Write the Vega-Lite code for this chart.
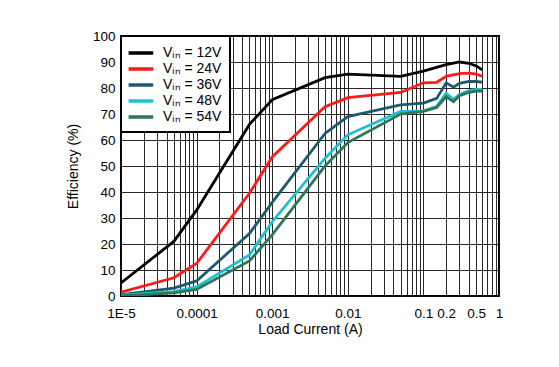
{
  "$schema": "https://vega.github.io/schema/vega-lite/v6.json",
  "width": 378,
  "height": 260,
  "autosize": {"type": "none"},
  "padding": {"left": 121, "top": 36, "right": 60, "bottom": 71},
  "background": "white",
  "config": {
    "font": "Liberation Sans",
    "view": {"stroke": "black", "strokeWidth": 2},
    "axis": {
      "labelFont": "Liberation Sans",
      "titleFont": "Liberation Sans",
      "labelFontSize": 13.5,
      "titleFontSize": 14,
      "labelColor": "black",
      "titleColor": "black",
      "titleFontWeight": "normal",
      "tickSize": 0,
      "domain": false,
      "gridColor": "#111111",
      "gridWidth": 1,
      "gridOpacity": 0.9
    },
    "legend": {
      "labelFont": "Liberation Sans",
      "labelFontSize": 14,
      "labelColor": "black"
    }
  },
  "data": {
    "values": [
      {"vin": "12V", "current": 0.00001, "eff": 5},
      {"vin": "12V", "current": 0.00005, "eff": 21},
      {"vin": "12V", "current": 0.0001, "eff": 33},
      {"vin": "12V", "current": 0.0005, "eff": 66},
      {"vin": "12V", "current": 0.001, "eff": 75.5},
      {"vin": "12V", "current": 0.005, "eff": 84},
      {"vin": "12V", "current": 0.01, "eff": 85.3},
      {"vin": "12V", "current": 0.05, "eff": 84.5},
      {"vin": "12V", "current": 0.1, "eff": 86.5},
      {"vin": "12V", "current": 0.2, "eff": 89},
      {"vin": "12V", "current": 0.3, "eff": 90},
      {"vin": "12V", "current": 0.4, "eff": 89.5},
      {"vin": "12V", "current": 0.5, "eff": 88.5},
      {"vin": "12V", "current": 0.6, "eff": 87},

      {"vin": "24V", "current": 0.00001, "eff": 1.5},
      {"vin": "24V", "current": 0.00005, "eff": 7},
      {"vin": "24V", "current": 0.0001, "eff": 12.5},
      {"vin": "24V", "current": 0.0005, "eff": 39.5},
      {"vin": "24V", "current": 0.001, "eff": 53.5},
      {"vin": "24V", "current": 0.005, "eff": 72.8},
      {"vin": "24V", "current": 0.01, "eff": 76.3},
      {"vin": "24V", "current": 0.05, "eff": 78.3},
      {"vin": "24V", "current": 0.1, "eff": 82},
      {"vin": "24V", "current": 0.15, "eff": 82.2},
      {"vin": "24V", "current": 0.2, "eff": 84.5},
      {"vin": "24V", "current": 0.3, "eff": 85.5},
      {"vin": "24V", "current": 0.4, "eff": 85.7},
      {"vin": "24V", "current": 0.5, "eff": 85.3},
      {"vin": "24V", "current": 0.6, "eff": 84.5},

      {"vin": "36V", "current": 0.00001, "eff": 0.5},
      {"vin": "36V", "current": 0.00005, "eff": 3},
      {"vin": "36V", "current": 0.0001, "eff": 5.8},
      {"vin": "36V", "current": 0.0005, "eff": 24},
      {"vin": "36V", "current": 0.001, "eff": 36},
      {"vin": "36V", "current": 0.005, "eff": 62.5},
      {"vin": "36V", "current": 0.01, "eff": 69},
      {"vin": "36V", "current": 0.05, "eff": 73.5},
      {"vin": "36V", "current": 0.1, "eff": 74.2},
      {"vin": "36V", "current": 0.15, "eff": 76},
      {"vin": "36V", "current": 0.2, "eff": 82},
      {"vin": "36V", "current": 0.25, "eff": 80.3},
      {"vin": "36V", "current": 0.3, "eff": 81.8},
      {"vin": "36V", "current": 0.4, "eff": 82.5},
      {"vin": "36V", "current": 0.5, "eff": 82.5},
      {"vin": "36V", "current": 0.6, "eff": 82.3},

      {"vin": "48V", "current": 0.00001, "eff": 0.3},
      {"vin": "48V", "current": 0.00005, "eff": 1.7},
      {"vin": "48V", "current": 0.0001, "eff": 3.5},
      {"vin": "48V", "current": 0.0005, "eff": 15.8},
      {"vin": "48V", "current": 0.001, "eff": 28.5},
      {"vin": "48V", "current": 0.005, "eff": 53},
      {"vin": "48V", "current": 0.01, "eff": 62},
      {"vin": "48V", "current": 0.05, "eff": 71},
      {"vin": "48V", "current": 0.1, "eff": 71.2},
      {"vin": "48V", "current": 0.15, "eff": 73},
      {"vin": "48V", "current": 0.2, "eff": 78},
      {"vin": "48V", "current": 0.25, "eff": 75.6},
      {"vin": "48V", "current": 0.3, "eff": 77.5},
      {"vin": "48V", "current": 0.4, "eff": 79},
      {"vin": "48V", "current": 0.5, "eff": 79.5},
      {"vin": "48V", "current": 0.6, "eff": 79.5},

      {"vin": "54V", "current": 0.00001, "eff": 0},
      {"vin": "54V", "current": 0.00005, "eff": 1.2},
      {"vin": "54V", "current": 0.0001, "eff": 2.5},
      {"vin": "54V", "current": 0.0005, "eff": 13.5},
      {"vin": "54V", "current": 0.001, "eff": 23.5},
      {"vin": "54V", "current": 0.005, "eff": 50},
      {"vin": "54V", "current": 0.01, "eff": 59},
      {"vin": "54V", "current": 0.05, "eff": 70},
      {"vin": "54V", "current": 0.1, "eff": 71},
      {"vin": "54V", "current": 0.15, "eff": 72.5},
      {"vin": "54V", "current": 0.2, "eff": 76.7},
      {"vin": "54V", "current": 0.25, "eff": 74.7},
      {"vin": "54V", "current": 0.3, "eff": 77},
      {"vin": "54V", "current": 0.4, "eff": 78.3},
      {"vin": "54V", "current": 0.5, "eff": 78.8},
      {"vin": "54V", "current": 0.6, "eff": 78.8}
    ]
  },
  "mark": {"type": "line", "strokeWidth": 2.8, "clip": true},
  "encoding": {
    "x": {
      "field": "current",
      "type": "quantitative",
      "scale": {"type": "log", "domain": [0.00001, 1], "nice": false},
      "axis": {
        "title": "Load Current (A)",
        "values": [0.00001,0.00002,0.00003,0.00004,0.00005,0.00006,0.00007,0.00008,0.00009,
                   0.0001,0.0002,0.0003,0.0004,0.0005,0.0006,0.0007,0.0008,0.0009,
                   0.001,0.002,0.003,0.004,0.005,0.006,0.007,0.008,0.009,
                   0.01,0.02,0.03,0.04,0.05,0.06,0.07,0.08,0.09,
                   0.1,0.2,0.3,0.4,0.5,0.6,0.7,0.8,0.9,1],
        "labelExpr": "datum.value == 0.00001 ? '1E-5' : (indexof([0.0001,0.001,0.01,0.1,0.2,0.5,1], datum.value) >= 0 ? toString(datum.value) : '')",
        "labelPadding": 10,
        "titlePadding": 3,
        "labelOverlap": false,
        "labelFlush": false
      }
    },
    "y": {
      "field": "eff",
      "type": "quantitative",
      "scale": {"domain": [0, 100], "nice": false},
      "axis": {
        "title": "Efficiency (%)",
        "values": [0,10,20,30,40,50,60,70,80,90,100],
        "labelPadding": 6,
        "titlePadding": 12
      }
    },
    "color": {
      "field": "vin",
      "type": "nominal",
      "scale": {
        "domain": ["12V", "24V", "36V", "48V", "54V"],
        "range": ["#000000", "#ff1a1a", "#1d5a6b", "#1ec0d0", "#2e7656"]
      },
      "legend": {
        "title": null,
        "orient": "top-left",
        "offset": 0,
        "labelExpr": "'Vᵢₙ = ' + datum.label",
        "symbolType": "M-1.3,0H2.1",
        "symbolSize": 210,
        "symbolStrokeWidth": 3.5,
        "rowPadding": 0,
        "labelOffset": 16,
        "padding": 8,
        "fillColor": "white",
        "strokeColor": "black",
        "encode": {"legend": {"update": {"strokeWidth": {"value": 2}}}}
      }
    }
  }
}
